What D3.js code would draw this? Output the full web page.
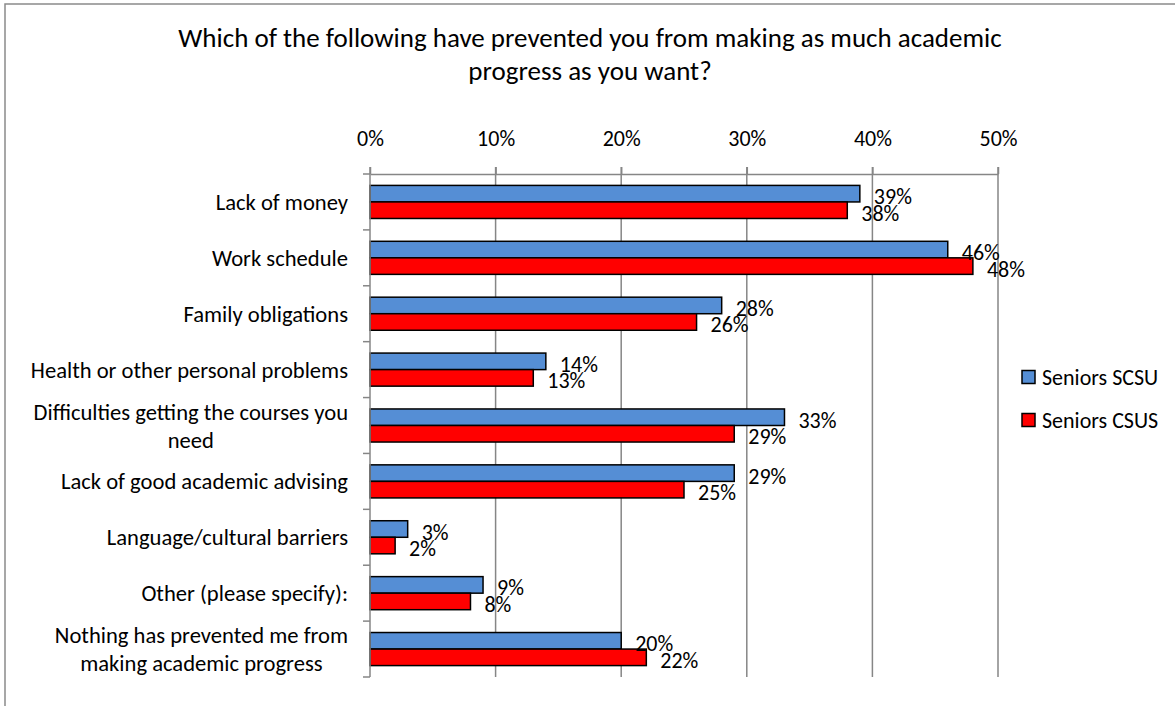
<!DOCTYPE html>
<html>
<head>
<meta charset="utf-8">
<script src="https://cdn.jsdelivr.net/npm/d3@7"></script>
<style>
  html, body { margin: 0; padding: 0; background: #fff; }
  svg { display: block; font-family: Carlito, Calibri, Lato, sans-serif; }
</style>
</head>
<body>
<svg id="chart" width="1175" height="706"></svg>
<script>
// Survey responses: share of seniors naming each obstacle
const categories = [
  "Lack of money",
  "Work schedule",
  "Family obligations",
  "Health or other personal problems",
  "Difficulties getting the courses you need",
  "Lack of good academic advising",
  "Language/cultural barriers",
  "Other (please specify):",
  "Nothing has prevented me from making academic progress"
];
// Wrapped text for the category axis
const categoryLines = [
  ["Lack of money"],
  ["Work schedule"],
  ["Family obligations"],
  ["Health or other personal problems"],
  ["Difficulties getting the courses you", "need"],
  ["Lack of good academic advising"],
  ["Language/cultural barriers"],
  ["Other (please specify):"],
  ["Nothing has prevented me from", "making academic progress"]
];
const seriesNames = ["Seniors SCSU", "Seniors CSUS"];
const scsuValues = [39, 46, 28, 14, 33, 29, 3, 9, 20];
const csusValues = [38, 48, 26, 13, 29, 25, 2, 8, 22];
const tickValues = [0, 10, 20, 30, 40, 50];
const seriesColors = ["#558ED5", "#FF0000"];
const titleLines = [
  "Which of the following have prevented you from making as much academic",
  "progress as you want?"
];

const svg = d3.select("#chart");
const W = 1175, H = 706;
const plot = { left: 370, right: 998, top: 174, bottom: 677 };
const FS = 22;

// Outer chart frame
svg.append("rect")
  .attr("x", 5).attr("y", 4)
  .attr("width", W + 20).attr("height", H + 20)
  .attr("fill", "none").attr("stroke", "#8a8a8a").attr("stroke-width", 1.5);

// Title
svg.append("g").selectAll("text")
  .data(titleLines).join("text")
  .attr("x", 590)
  .attr("y", (d, i) => 47 + i * 33)
  .attr("text-anchor", "middle")
  .attr("font-size", 27)
  .attr("fill", "#000")
  .text(d => d);

const x = d3.scaleLinear().domain([0, 50]).range([plot.left, plot.right]);
const y = d3.scaleBand().domain(categories).range([plot.top, plot.bottom]).padding(0);
const ySub = d3.scaleBand().domain(seriesNames).range([0, y.bandwidth()])
  .paddingInner(0).paddingOuter(0.69);

// Vertical gridlines with ticks above the top axis
svg.append("g").selectAll("line")
  .data(tickValues.filter(t => t > 0)).join("line")
  .attr("x1", d => x(d)).attr("x2", d => x(d))
  .attr("y1", plot.top - 7).attr("y2", plot.bottom)
  .attr("stroke", "#868686").attr("stroke-width", 1.5);

// Top value axis
const xAxis = d3.axisTop(x)
  .tickValues(tickValues)
  .tickFormat(d => d + "%")
  .tickSizeInner(7).tickSizeOuter(0).tickPadding(21);
const gx = svg.append("g").attr("transform", `translate(0,${plot.top})`).call(xAxis);
gx.select(".domain").attr("stroke", "#868686").attr("stroke-width", 1.5);
gx.selectAll(".tick line").attr("stroke", "#868686").attr("stroke-width", 1.5);
gx.selectAll(".tick text")
  .attr("font-size", FS).attr("fill", "#000")
  .attr("font-family", "Carlito, Calibri, Lato, sans-serif");

// Left category axis line and tick marks at band boundaries
const boundaries = categories.map(c => y(c)).concat([plot.bottom]);
svg.append("g").selectAll("line")
  .data(boundaries).join("line")
  .attr("x1", plot.left - 7).attr("x2", plot.left)
  .attr("y1", d => d).attr("y2", d => d)
  .attr("stroke", "#868686").attr("stroke-width", 1.5);

// Category labels (multi-line labels centred within their block)
const labelG = svg.append("g");
categories.forEach((c, i) => {
  const lines = categoryLines[i];
  const cy = y(c) + y.bandwidth() / 2;
  const lh = 28;
  const t = labelG.append("text")
    .attr("font-size", 22.6).attr("fill", "#000");
  lines.forEach((ln, j) => {
    t.append("tspan")
      .attr("y", cy + (j - (lines.length - 1) / 2) * lh)
      .attr("dominant-baseline", "central")
      .text(ln);
  });
  const widths = [];
  t.selectAll("tspan").each(function () { widths.push(this.getComputedTextLength()); });
  const maxW = d3.max(widths);
  const rightX = 348;
  t.selectAll("tspan").attr("x", rightX - maxW / 2).attr("text-anchor", "middle");
});

// Bars
const rows = categories.map((c, i) => ({ cat: c, vals: [scsuValues[i], csusValues[i]] }));
const barG = svg.append("g");
rows.forEach(r => {
  r.vals.forEach((v, k) => {
    const by = y(r.cat) + ySub(seriesNames[k]);
    barG.append("rect")
      .attr("x", x(0)).attr("y", by)
      .attr("width", x(v) - x(0)).attr("height", ySub.bandwidth())
      .attr("fill", seriesColors[k]).attr("stroke", "#000").attr("stroke-width", 1.5);
  });
});

// Value labels
const valG = svg.append("g");
rows.forEach(r => {
  r.vals.forEach((v, k) => {
    const by = y(r.cat) + ySub(seriesNames[k]) + ySub.bandwidth() / 2;
    valG.append("text")
      .attr("x", x(v) + 14).attr("y", by + 3)
      .attr("dominant-baseline", "central")
      .attr("font-size", FS).attr("fill", "#000")
      .text(v + "%");
  });
});

// Category axis line drawn over the bars' left edges
svg.append("line")
  .attr("x1", plot.left).attr("x2", plot.left)
  .attr("y1", plot.top - 7).attr("y2", plot.bottom)
  .attr("stroke", "#868686").attr("stroke-width", 1.5);

// Legend
const legend = svg.append("g");
seriesNames.forEach((s, k) => {
  const ly = 377 + k * 43;
  legend.append("rect")
    .attr("x", 1022).attr("y", ly - 6.5).attr("width", 13).attr("height", 13)
    .attr("fill", seriesColors[k]).attr("stroke", "#000").attr("stroke-width", 1.5);
  legend.append("text")
    .attr("x", 1042).attr("y", ly)
    .attr("dominant-baseline", "central")
    .attr("font-size", FS).attr("fill", "#000")
    .text(s);
});
</script>
</body>
</html>
